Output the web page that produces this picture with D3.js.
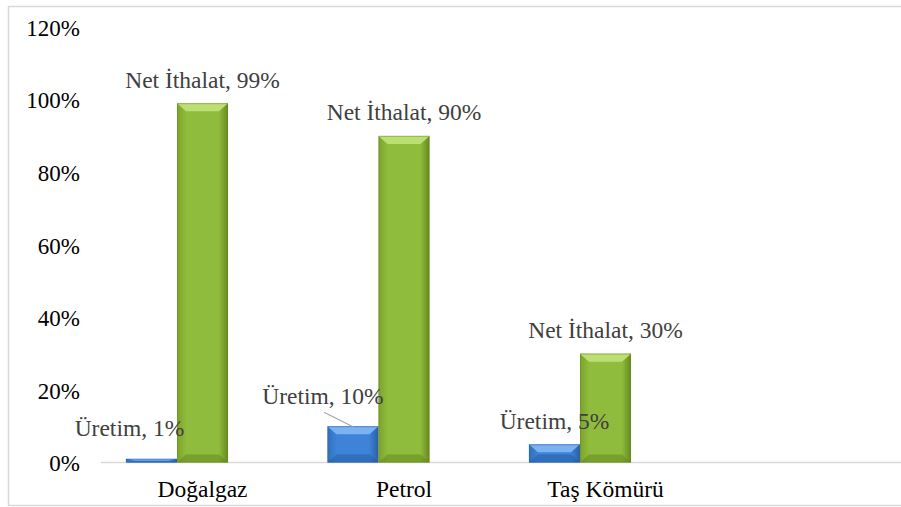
<!DOCTYPE html>
<html lang="tr">
<head>
  <meta charset="UTF-8">
  <title>Üretim ve Net İthalat</title>
  <script src="https://d3js.org/d3.v7.min.js"></script>
  <style>
    body { margin: 0; background: #fff; }
    svg { display: block; }
  </style>
</head>
<body>
<svg id="chart" width="901" height="507"></svg>
<script>
  // data
  const categories = ['Doğalgaz', 'Petrol', 'Taş Kömürü'];
  const seriesNames = ['Üretim', 'Net İthalat'];
  const uretim = [0.01, 0.10, 0.05];
  const netIthalat = [0.99, 0.90, 0.30];
  const yTicks = [0, 0.2, 0.4, 0.6, 0.8, 1.0, 1.2];

  const FONT = '"Liberation Serif"';

  const svg = d3.select('#chart');

  // chart frame (right side runs off the picture)
  svg.append('rect')
    .attr('x', 8.5).attr('y', 6.5)
    .attr('width', 920).attr('height', 499)
    .attr('fill', 'none')
    .attr('stroke', '#d9d9d9')
    .attr('stroke-width', 1.5);

  const y = d3.scaleLinear().domain([0, 1.2]).range([462.5, 27]);
  const x0 = d3.scaleBand().domain(categories).range([101.75, 706.25]);
  // third slot is left empty, as in the original
  const x1 = d3.scaleBand()
    .domain([...seriesNames, '-'])
    .range([x0.bandwidth() * 0.12, x0.bandwidth() * 0.88]);

  const colors = {
    'Üretim': { face: '#3d83d6', light: '#7cb2f2', dark: '#2a5ea6', edge: '#3070bd' },
    'Net İthalat': { face: '#8fbc3c', light: '#bbdf72', dark: '#66891f', edge: '#7aa22d' }
  };

  const defs = svg.append('defs');
  seriesNames.forEach((s, i) => {
    const g = defs.append('linearGradient').attr('id', 'grad' + i)
      .attr('x1', '0').attr('x2', '1').attr('y1', '0').attr('y2', '0');
    g.append('stop').attr('offset', '0%').attr('stop-color', colors[s].edge);
    g.append('stop').attr('offset', '18%').attr('stop-color', colors[s].face);
    g.append('stop').attr('offset', '82%').attr('stop-color', colors[s].face);
    g.append('stop').attr('offset', '100%').attr('stop-color', colors[s].dark);
  });

  // y axis labels
  svg.append('g')
    .attr('transform', 'translate(80,0)')
    .call(d3.axisLeft(y).tickValues(yTicks).tickFormat(d3.format('.0%')).tickSize(0).tickPadding(0))
    .call(g => g.select('.domain').remove())
    .call(g => g.selectAll('text')
      .attr('font-size', 23)
      .style('font-family', FONT)
      .attr('fill', '#000')
      .attr('dy', '0.36em'));

  // x axis line
  svg.append('line')
    .attr('x1', 101).attr('x2', 901)
    .attr('y1', y(0)).attr('y2', y(0))
    .attr('stroke', '#d9d9d9')
    .attr('stroke-width', 1.5);

  svg.append('g')
    .attr('transform', `translate(0,${y(0)})`)
    .call(d3.axisBottom(x0).tickSize(0).tickPadding(0))
    .call(g => g.select('.domain').remove())
    .call(g => g.selectAll('text')
      .attr('y', 34)
      .attr('dy', 0)
      .attr('font-size', 23.5)
      .style('font-family', FONT)
      .attr('fill', '#000'));

  // bars
  const rows = [];
  categories.forEach((c, ci) => {
    rows.push({ cat: c, ci, series: 'Üretim', si: 0, value: uretim[ci] });
    rows.push({ cat: c, ci, series: 'Net İthalat', si: 1, value: netIthalat[ci] });
  });

  const bars = svg.append('g').selectAll('g.bar')
    .data(rows)
    .join('g')
    .attr('class', 'bar');

  bars.each(function(d) {
    const g = d3.select(this);
    const x = x0(d.cat) + x1(d.series);
    const w = x1.bandwidth();
    const top = y(d.value);
    const h = y(0) - top;
    const b = Math.min(8, h / 2);
    const bx = Math.min(9, w / 2);
    const c = colors[d.series];
    g.append('rect')
      .attr('x', x).attr('y', top)
      .attr('width', w).attr('height', h)
      .attr('fill', `url(#grad${d.si})`);
    // top bevel
    g.append('path')
      .attr('d', `M${x},${top}L${x + w},${top}L${x + w - bx},${top + b}L${x + bx},${top + b}Z`)
      .attr('fill', c.light);
    // bottom bevel
    g.append('path')
      .attr('d', `M${x},${top + h}L${x + w},${top + h}L${x + w - bx},${top + h - b}L${x + bx},${top + h - b}Z`)
      .attr('fill', c.dark).attr('opacity', 0.55);
    // outline
    g.append('rect')
      .attr('x', x + 0.5).attr('y', top + 0.5)
      .attr('width', w - 1).attr('height', Math.max(0, h - 1))
      .attr('fill', 'none')
      .attr('stroke', c.dark).attr('stroke-opacity', 0.45);
  });

  // data labels; two Üretim labels were dragged aside in the original
  const labelNudge = { '0-0': [-22, -7], '1-0': [-30, -7] };
  svg.append('g').selectAll('text.lbl')
    .data(rows)
    .join('text')
    .attr('class', 'lbl')
    .attr('text-anchor', 'middle')
    .attr('font-size', 23.5)
    .style('font-family', FONT)
    .attr('fill', '#404040')
    .attr('x', d => {
      const n = labelNudge[d.ci + '-' + d.si] || [0, 0];
      return x0(d.cat) + x1(d.series) + x1.bandwidth() / 2 + n[0];
    })
    .attr('y', d => {
      const n = labelNudge[d.ci + '-' + d.si] || [0, 0];
      return y(d.value) - 15.5 + n[1];
    })
    .text(d => `${d.series}, ${Math.round(d.value * 100)}%`);

  // leader line for Petrol / Üretim
  const lead = rows.find(r => r.ci === 1 && r.si === 0);
  const lx = x0(lead.cat) + x1(lead.series) + x1.bandwidth() / 2;
  svg.append('line')
    .attr('x1', lx - 29).attr('y1', y(lead.value) - 14)
    .attr('x2', lx).attr('y2', y(lead.value) + 0.5)
    .attr('stroke', '#a6a6a6')
    .attr('stroke-width', 1.3);
</script>
</body>
</html>
